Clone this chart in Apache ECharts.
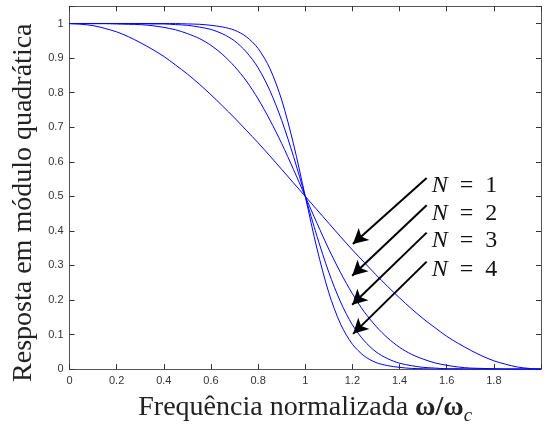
<!DOCTYPE html>
<html>
<head>
<meta charset="utf-8">
<script src="https://cdn.jsdelivr.net/npm/echarts@6/dist/echarts.min.js"></script>
<style>
  html, body { margin: 0; padding: 0; background: #fff; }
  #main { width: 544px; height: 430px; }
</style>
</head>
<body>
<div id="main"></div>
<script>
// normalized frequency (w/wc), read in steps of 0.05
let freq = [0, 0.05, 0.1, 0.15, 0.2, 0.25, 0.3, 0.35, 0.4, 0.45, 0.5, 0.55, 0.6, 0.65, 0.7, 0.75, 0.8, 0.85, 0.9, 0.95,
    1, 1.05, 1.1, 1.15, 1.2, 1.25, 1.3, 1.35, 1.4, 1.45, 1.5, 1.55, 1.6, 1.65, 1.7, 1.75, 1.8, 1.85, 1.9, 1.95, 2];
// squared magnitude for each order N
let respN1 = [1, 0.998, 0.994, 0.986, 0.976, 0.962, 0.945, 0.926, 0.905, 0.880, 0.854, 0.825, 0.794, 0.761, 0.727, 0.691, 0.655, 0.617, 0.578, 0.539,
    0.5, 0.461, 0.422, 0.383, 0.345, 0.309, 0.273, 0.239, 0.206, 0.175, 0.146, 0.120, 0.095, 0.074, 0.055, 0.038, 0.024, 0.014, 0.006, 0.002, 0];
let respN2 = [1, 1, 1, 1, 0.999, 0.998, 0.997, 0.994, 0.989, 0.982, 0.971, 0.957, 0.937, 0.910, 0.876, 0.834, 0.782, 0.721, 0.653, 0.578,
    0.5, 0.422, 0.347, 0.279, 0.218, 0.166, 0.124, 0.090, 0.063, 0.043, 0.029, 0.018, 0.011, 0.006, 0.003, 0.002, 0.001, 0, 0, 0, 0];
let respN3 = [1, 1, 1, 1, 1, 1, 1, 0.999, 0.999, 0.997, 0.995, 0.990, 0.983, 0.970, 0.950, 0.918, 0.872, 0.806, 0.720, 0.616,
    0.5, 0.384, 0.280, 0.194, 0.128, 0.082, 0.050, 0.030, 0.017, 0.010, 0.005, 0.003, 0.001, 0.001, 0, 0, 0, 0, 0, 0, 0];
let respN4 = [1, 1, 1, 1, 1, 1, 1, 1, 1, 1, 0.999, 0.998, 0.995, 0.990, 0.981, 0.962, 0.928, 0.870, 0.779, 0.652,
    0.5, 0.348, 0.221, 0.130, 0.072, 0.038, 0.019, 0.010, 0.005, 0.002, 0.001, 0, 0, 0, 0, 0, 0, 0, 0, 0, 0];
let orderNames = ['N = 1', 'N = 2', 'N = 3', 'N = 4'];
let xTicks = [0, 0.2, 0.4, 0.6, 0.8, 1, 1.2, 1.4, 1.6, 1.8, 2];
let yTicks = [0, 0.1, 0.2, 0.3, 0.4, 0.5, 0.6, 0.7, 0.8, 0.9, 1];

let allResp = [respN1, respN2, respN3, respN4];

// arrows: start (near the text) -> tip (near the curve), in data units
let arrowStart = [[1.515, 0.553], [1.515, 0.474], [1.515, 0.395], [1.515, 0.311]];
let arrowTip = [[1.202, 0.362], [1.199, 0.270], [1.199, 0.186], [1.203, 0.102]];

function tickLabel(list) {
    return function (v) {
        for (let i = 0; i < list.length; i++) {
            if (Math.abs(list[i] - v) < 1e-6) return String(list[i]);
        }
        return '';
    };
}

let axisLineStyle = { color: '#555', width: 1 };
let tickStyle = { show: true, inside: true, length: 5, lineStyle: { color: '#333', width: 1 } };
let labelFont = { fontFamily: 'Liberation Sans', fontSize: 11, color: '#333' };
let serif = 'Liberation Serif';

let myChart = echarts.init(document.getElementById('main'), null, { renderer: 'canvas' });

let series = allResp.map((resp, k) => ({
    name: orderNames[k],
    type: 'line',
    data: freq.map((x, i) => [x, resp[i]]),
    showSymbol: false,
    smooth: 0.3,
    lineStyle: { color: '#0000ff', width: 1 },
    z: 2
}));

// arrows and "N = k" texts
series.push({
    type: 'line',
    data: [],
    silent: true,
    markLine: {
        silent: true,
        symbol: ['none', 'arrow'],
        symbolSize: [12, 15],
        lineStyle: { color: '#000', width: 2, type: 'solid' },
        label: { show: false },
        data: arrowStart.map((s, k) => [{ coord: s }, { coord: arrowTip[k] }])
    },
    markPoint: {
        silent: true,
        symbol: 'circle',
        symbolSize: 0,
        label: {
            show: true,
            position: 'right',
            distance: 1,
            offset: [4, 8],
            color: '#111',
            formatter: p => '{i|N}{r|\u2002=\u2002' + p.name.slice(-1) + '}',
            rich: {
                i: { fontFamily: serif, fontStyle: 'italic', fontSize: 24, color: '#111' },
                r: { fontFamily: serif, fontSize: 24, color: '#111' }
            }
        },
        data: arrowStart.map((s, k) => ({ name: orderNames[k], coord: s }))
    },
    z: 5
});

let option = {
    animation: false,
    backgroundColor: '#fff',
    grid: { left: 69.5, top: 6.3, width: 478, height: 377.2 },
    xAxis: [
        {
            type: 'value', min: 0, max: 2, interval: 0.2, position: 'bottom',
            name: '{t|Frequência normalizada }{w|ω/ω}{c|c}',
            nameLocation: 'middle',
            nameGap: 11,
            nameTextStyle: {
                fontFamily: serif, fontSize: 28, color: '#222', lineHeight: 34,
                verticalAlign: 'top',
                rich: {
                    t: { fontFamily: serif, fontSize: 28, color: '#222', lineHeight: 34 },
                    w: { fontFamily: serif, fontWeight: 'bold', fontSize: 28, color: '#222', lineHeight: 34 },
                    c: { fontFamily: serif, fontStyle: 'italic', fontSize: 19, color: '#222', lineHeight: 20, verticalAlign: 'bottom' }
                }
            },
            axisLine: { show: true, lineStyle: axisLineStyle },
            axisTick: tickStyle,
            axisLabel: Object.assign({ margin: 6, formatter: tickLabel(xTicks.slice(0, -1)) }, labelFont),
            splitLine: { show: false }
        },
        {
            type: 'value', min: 0, max: 2, interval: 0.2, position: 'top',
            axisLine: { show: true, onZero: false, lineStyle: axisLineStyle },
            axisTick: tickStyle,
            axisLabel: { show: false },
            splitLine: { show: false }
        }
    ],
    yAxis: [
        {
            type: 'value', min: 0, max: 1.05, interval: 0.1, position: 'left',
            name: '{t|Resposta em módulo quadrática}',
            nameLocation: 'middle',
            nameGap: 27,
            nameTextStyle: {
                fontFamily: serif, fontSize: 28, color: '#222',
                padding: [0, 30, 0, 0],
                rich: { t: { fontFamily: serif, fontSize: 28, color: '#222' } }
            },
            axisLine: { show: true, lineStyle: axisLineStyle },
            axisTick: tickStyle,
            axisLabel: Object.assign({ margin: 6, formatter: tickLabel(yTicks) }, labelFont),
            splitLine: { show: false }
        },
        {
            type: 'value', min: 0, max: 1.05, interval: 0.1, position: 'right',
            axisLine: { show: true, onZero: false, lineStyle: axisLineStyle },
            axisTick: tickStyle,
            axisLabel: { show: false },
            splitLine: { show: false }
        }
    ],
    series: series
};

myChart.setOption(option);
</script>
</body>
</html>
